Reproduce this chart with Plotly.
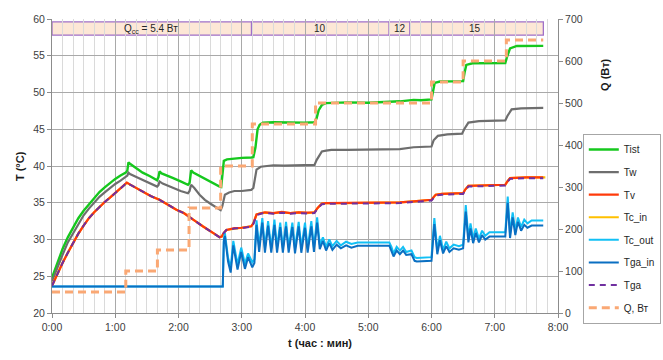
import plotly.graph_objects as go

# ---------------- data (time in minutes) ----------------
tist_t = [0,5,10,15,20,25,30,35,40,45,50,55,60,65,70,71.5,72.5,74,80,86,93,99.7,101,102,104,110,115,122,129,130.5,132,134,138,143,150,155,159,160.5,161.5,163,166,173,180,189,191,193,195,197,200,210,220,230,240,249,251,253,256,260,265,280,300,320,330,343,350,360,361.5,363,368,380,390,391.5,393,399,410,420,430,432,434.5,441,450,466]
tist_v = [24.8,26.9,28.7,30.3,31.7,32.9,33.9,34.8,35.7,36.45,37.1,37.7,38.25,38.7,39.1,39.4,40.5,40.3,39.7,39.1,38.6,38.05,38.5,39.25,39.0,38.7,38.35,37.9,37.45,37.7,39.4,39.1,38.8,38.35,37.8,37.5,37.2,37.15,39.0,40.7,40.9,41.05,41.1,41.15,41.2,42.5,45.0,45.6,45.9,45.95,45.9,45.95,45.9,45.95,46.5,47.6,48.3,48.55,48.6,48.65,48.6,48.7,48.8,49.0,48.95,49.05,50.5,51.3,51.5,51.5,51.55,52.8,53.75,53.97,54.0,53.98,54.0,55.0,56.0,56.33,56.35,56.35]

tw_t = [0,5,10,15,20,25,30,35,40,45,50,55,60,65,70,71.5,72.5,74,80,86,93,99.7,101,102,105,110,115,122,129,130.5,132,135,140,145,150,155,160,161.5,164,168,173,180,189,191,194,198,202,210,220,230,240,249,251,256,260,265,280,300,321,330,343,355,360,362,366,375,389,391,395,405,420,430,432,436,445,466]
tw_v = [24.3,26.2,27.9,29.6,30.9,32.2,33.3,34.2,35.0,35.8,36.4,37.0,37.55,38.0,38.5,38.7,39.1,38.9,38.5,38.1,37.6,37.2,37.4,37.9,37.6,37.3,36.95,36.6,36.3,36.6,37.45,37.0,36.1,35.4,34.9,34.5,34.0,34.5,36.1,36.4,36.6,36.6,36.75,37.0,39.5,39.9,40.0,40.1,40.05,40.1,40.15,40.15,40.8,41.97,42.1,42.2,42.2,42.2,42.25,42.3,42.55,42.6,42.65,43.5,44.1,44.3,44.4,45.0,45.9,46.1,46.15,46.2,46.8,47.7,47.85,47.9]

tv_t = [0,5,10,15,20,25,30,35,40,45,50,55,60,65,71,75,80,86,94,102,110,118,125,131,137,143,150,155,159,161,163,165.5,173,180,189,191,194,198,202,210,218,226,234,242,249,252,256,260,280,300,321,330,343,352,360,364,370,390,392,395,410,430,432,434.5,450,466]
tv_v = [23.7,25.3,26.8,28.2,29.6,30.8,31.9,32.9,33.7,34.45,35.1,35.7,36.3,36.9,37.75,37.4,37.0,36.5,35.9,35.4,34.7,34.05,33.6,33.05,32.4,31.8,31.1,30.7,30.33,30.4,30.9,31.3,31.55,31.6,31.8,32.2,33.4,33.6,33.7,33.6,33.75,33.6,33.7,33.65,33.7,34.3,34.9,34.95,34.95,34.95,34.95,35.05,35.2,35.3,35.4,36.1,36.2,36.3,36.8,37.3,37.4,37.45,37.9,38.35,38.45,38.45]

tcin_t = [0,5,10,15,20,25,30,35,40,45,50,55,60,65,71,75,80,86,94,102,110,118,125,131,137,143,150,155,159,161,163,165.5,173,180,189,191,194,198,202,210,218,226,234,242,249,252,256,260,280,300,321,330,343,352,360,364,370,390,392,395,410,430,432,434.5,450,468]
tcin_v = [23.7,25.3,26.8,28.2,29.6,30.8,31.9,32.9,33.7,34.45,35.1,35.7,36.3,36.9,37.7,37.4,37.0,36.5,35.9,35.4,34.7,34.05,33.6,33.05,32.4,31.8,31.1,30.7,30.3,30.4,30.9,31.3,31.5,31.6,31.8,32.2,33.4,33.6,33.65,33.6,33.7,33.6,33.7,33.6,33.7,34.3,34.9,34.95,34.95,34.95,34.95,35.05,35.2,35.3,35.4,36.1,36.2,36.3,36.8,37.3,37.4,37.45,37.9,38.35,38.45,38.45]

tga_t = tv_t
tga_v = [23.7,25.3,26.8,28.2,29.6,30.8,31.9,32.9,33.7,34.45,35.1,35.7,36.3,36.9,37.7,37.4,37.0,36.5,35.9,35.4,34.7,34.05,33.6,33.05,32.4,31.8,31.1,30.7,30.3,30.4,30.9,31.3,31.5,31.55,31.75,32.1,33.3,33.5,33.6,33.5,33.65,33.5,33.6,33.55,33.6,34.2,34.8,34.85,34.85,34.85,34.85,34.95,35.1,35.2,35.3,36.0,36.1,36.2,36.7,37.2,37.3,37.35,37.8,38.25,38.35,38.35]

osc_t = [0,162,163,164,167,169.5,172,176,179.5,183,186,190,192,194,196.5,199.5,202,205,208,211,213.5,216.5,219,222,224.5,228,230.5,234,236.5,240,242.5,246,248.5,251.5,254,257,260,263,266,270,274,279,284,290,320,322,324,327,330,333,336,341,344,346,360,362.7,365.5,368,371,374,377,381,386,390,392.5,395,397,399.5,402,405,408,411,415,430,432.3,434.5,437,439.5,442,445,448,451,455,466]
tcout_v = [23.6,23.6,30.0,30.9,27.5,26.2,29.8,26.6,28.9,26.7,28.1,26.9,27.3,32.6,29.0,32.9,28.9,32.5,28.8,32.7,28.9,32.3,28.8,32.4,28.9,32.3,28.8,32.4,28.9,32.3,28.8,32.5,28.9,33.0,29.3,30.3,29.0,30.0,29.1,29.8,29.2,29.7,29.4,29.6,29.6,29.0,28.1,29.0,28.5,29.0,28.3,28.5,27.6,27.5,27.6,32.9,28.5,30.5,28.6,29.7,28.8,29.3,29.1,29.3,34.7,30.2,32.2,30.1,31.5,30.1,31.2,30.5,31.0,31.0,35.85,30.8,33.7,31.2,33.0,31.7,32.7,32.2,32.6,32.6]
tgain_v = [23.6,23.6,29.7,30.5,27.0,25.5,29.2,25.9,28.3,26.0,27.6,26.2,26.8,32.0,28.3,32.3,28.2,31.9,28.2,32.0,28.2,31.7,28.2,31.8,28.2,31.7,28.1,31.8,28.2,31.6,28.2,31.8,28.3,32.3,28.7,29.8,28.5,29.5,28.6,29.3,28.8,29.2,28.9,29.15,29.15,28.5,27.7,28.5,28.0,28.5,27.9,28.0,27.1,27.0,27.1,32.1,28.0,29.9,28.1,29.1,28.3,28.8,28.6,28.8,33.8,29.6,31.5,29.5,30.9,29.6,30.6,30.0,30.4,30.4,35.0,30.2,33.0,30.6,32.4,31.2,32.0,31.6,31.9,31.9]

q_t = [0,70,100,130,160,190,250,360,390,431,466]
q_v = [50,100,150,250,350,450,500,550,600,650,650]

hour_ticks = [0,60,120,180,240,300,360,420,480]
hour_labels = ["0:00","1:00","2:00","3:00","4:00","5:00","6:00","7:00","8:00"]

band_edges = [0,189.3,319.9,339.6,466.1]
band_labels = ["Q<sub>cc</sub> = 5.4 Вт","10","12","15"]
band_label_t = [94,254,330,401]

for a, b in [(tist_t,tist_v),(tw_t,tw_v),(tv_t,tv_v),(tcin_t,tcin_v),(tga_t,tga_v),(osc_t,tcout_v),(osc_t,tgain_v),(q_t,q_v)]:
    assert len(a) == len(b), (len(a), len(b))

FONT = "Liberation Sans, Arial, sans-serif"

fig = go.Figure()

def add(name, t, v, color, width, rank, dash="solid", yaxis="y", shape="linear"):
    fig.add_trace(go.Scatter(
        x=t, y=v, name=name, mode="lines", yaxis=yaxis, legendrank=rank,
        legendgroup=name,
        line=dict(color=color, width=width, dash=dash, shape=shape),
        hoverinfo="skip"))

add("Tist", tist_t, tist_v, "#16c81e", 2.4, 1)
add("Tw", tw_t, tw_v, "#6e6e6e", 2.2, 2)
add("Tc_in", tcin_t, tcin_v, "#ffc000", 2.2, 4)
add("Tv", tv_t, tv_v, "#ff3a0a", 2.2, 3)
add("Tc_out", osc_t, tcout_v, "#12c0f5", 2.0, 5)
add("Tga_in", osc_t, tgain_v, "#0a6fc2", 2.0, 6)
add("Tga", tga_t, tga_v, "#7030a0", 2.0, 7, dash="6px,5px")
add("Q, Вт", q_t, q_v, "#faa874", 3.0, 8, dash="8px,5px", yaxis="y2", shape="hv")

# top band
shapes = []
for i in range(len(band_edges) - 1):
    shapes.append(dict(type="rect", xref="x", yref="y",
                       x0=band_edges[i], x1=band_edges[i + 1], y0=57.8, y1=59.6,
                       fillcolor="#fde7d6", line=dict(color="#a070c8", width=1.3),
                       layer="below"))
annotations = []
for lab, tt in zip(band_labels, band_label_t):
    annotations.append(dict(x=tt, y=58.7, xref="x", yref="y", text=lab, showarrow=False,
                            xanchor="center", yanchor="middle",
                            font=dict(family=FONT, size=10, color="#262626")))

annotations += [
    dict(text="<b>t (час : мин)</b>", xref="paper", yref="paper", x=0.530, y=-0.102,
         xanchor="center", yanchor="middle",
         showarrow=False, font=dict(family=FONT, size=11, color="#1a1a1a")),
    dict(text="<b>T (°C)</b>", xref="paper", yref="paper", x=-0.063, y=0.50, textangle=-90,
         xanchor="center", yanchor="middle",
         showarrow=False, font=dict(family=FONT, size=11, color="#1a1a1a")),
    dict(text="<b>Q (Вт)</b>", xref="paper", yref="paper", x=1.093, y=0.81, textangle=-90,
         xanchor="center", yanchor="middle",
         showarrow=False, font=dict(family=FONT, size=11, color="#1a1a1a")),
]

fig.update_layout(
    width=663, height=360,
    margin=dict(l=52, r=105, t=19, b=47, autoexpand=False),
    paper_bgcolor="white", plot_bgcolor="white",
    font=dict(family=FONT, size=10.5, color="#404040"),
    shapes=shapes, annotations=annotations,
    showlegend=True,
    legend=dict(x=1.049, y=0.609, xanchor="left", yanchor="top",
                bgcolor="white", bordercolor="#a6a6a6", borderwidth=1,
                font=dict(family=FONT, size=10, color="#262626"),
                tracegroupgap=3.6, traceorder="grouped"),
    xaxis=dict(range=[0, 480], tickvals=hour_ticks, ticktext=hour_labels,
               showgrid=True, gridcolor="#a9a9a9", gridwidth=1,
               minor=dict(dtick=10, tick0=0, showgrid=True, gridcolor="#dadada", gridwidth=1),
               showline=True, linecolor="#8c8c8c", linewidth=1,
               ticks="outside", ticklen=4, tickcolor="#8c8c8c",
               zeroline=False, tickfont=dict(size=10.5)),
    yaxis=dict(range=[20, 60], dtick=5, tick0=20,
               showgrid=True, gridcolor="#a9a9a9", gridwidth=1,
               showline=True, linecolor="#8c8c8c", linewidth=1,
               ticks="outside", ticklen=4, tickcolor="#8c8c8c",
               zeroline=False, tickfont=dict(size=10.5)),
    yaxis2=dict(range=[0, 700], dtick=100, tick0=0, overlaying="y", side="right",
                showgrid=False, showline=True, linecolor="#8c8c8c", linewidth=1,
                ticks="outside", ticklen=4, tickcolor="#8c8c8c",
                zeroline=False, tickfont=dict(size=10.5)),
)

fig.write_html("out.html", config={"displayModeBar": False},
               post_script="document.body.style.margin='0px';document.body.style.padding='0px';document.body.style.overflow='hidden';")
